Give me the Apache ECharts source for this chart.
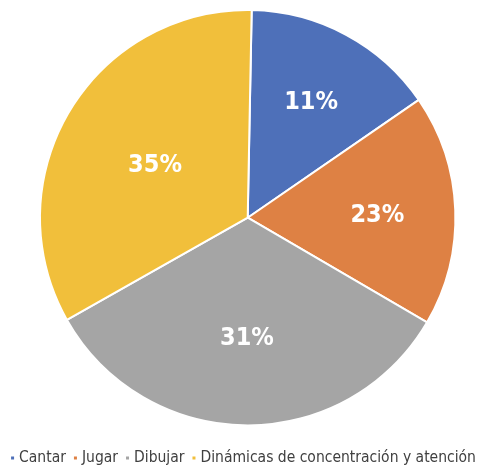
<!DOCTYPE html>
<html><head><meta charset="utf-8">
<script src="https://cdn.jsdelivr.net/npm/echarts@6/dist/echarts.min.js"></script>
<style>html,body{margin:0;padding:0;background:#fff}#c{width:485px;height:468px}</style>
</head><body><div id="c"></div>
<script>
const categories = ['Cantar', 'Jugar', 'Dibujar', 'Dinámicas de concentración y atención'];
const sliceValues = [15.1, 18.0, 33.4, 33.5];
const labelTexts = ['11%', '23%', '31%', '35%'];
const colors = ['#4e70b9', '#de8144', '#a5a5a5', '#f1bf3b'];
const labelRadiusFrac = [0.63, 0.61, 0.555, 0.505];

const R = 207.7;
const startAngle = 88.9;
const total = sliceValues.reduce((a, b) => a + b, 0);
const mids = [];
let acc = 0;
sliceValues.forEach(v => { mids.push((90 - startAngle) + (acc + v / 2) / total * 360); acc += v; });

const FONT = '"DejaVu Sans Condensed", "DejaVu Sans", sans-serif';
const chart = echarts.init(document.getElementById('c'), null, {renderer: 'canvas'});
chart.setOption({
  animation: false,
  color: colors,
  legend: {
    bottom: -3, left: 'center', width: 485,
    itemWidth: 5, itemHeight: 5, itemGap: 6,
    icon: 'rect',
    textStyle: {fontFamily: FONT, fontSize: 15.5, color: '#404040', padding: [0, 0, 0, -1]},
    data: categories
  },
  series: [{
    type: 'pie',
    center: [247.7, 217.7],
    radius: [0, R],
    startAngle: startAngle,
    clockwise: true,
    silent: true,
    itemStyle: {borderColor: '#fff', borderWidth: 2},
    label: {
      show: true, position: 'inside',
      formatter: p => labelTexts[p.dataIndex],
      color: '#fff', fontWeight: 'bold', fontSize: 25,
      fontFamily: FONT
    },
    labelLine: {show: false},
    labelLayout: p => {
      const i = p.dataIndex;
      const t = mids[i] * Math.PI / 180;
      const d = (labelRadiusFrac[i] - 0.5) * R;
      return {dx: d * Math.sin(t), dy: -d * Math.cos(t) + 3};
    },
    data: categories.map((c, i) => ({name: c, value: sliceValues[i]}))
  }]
});
</script></body></html>
